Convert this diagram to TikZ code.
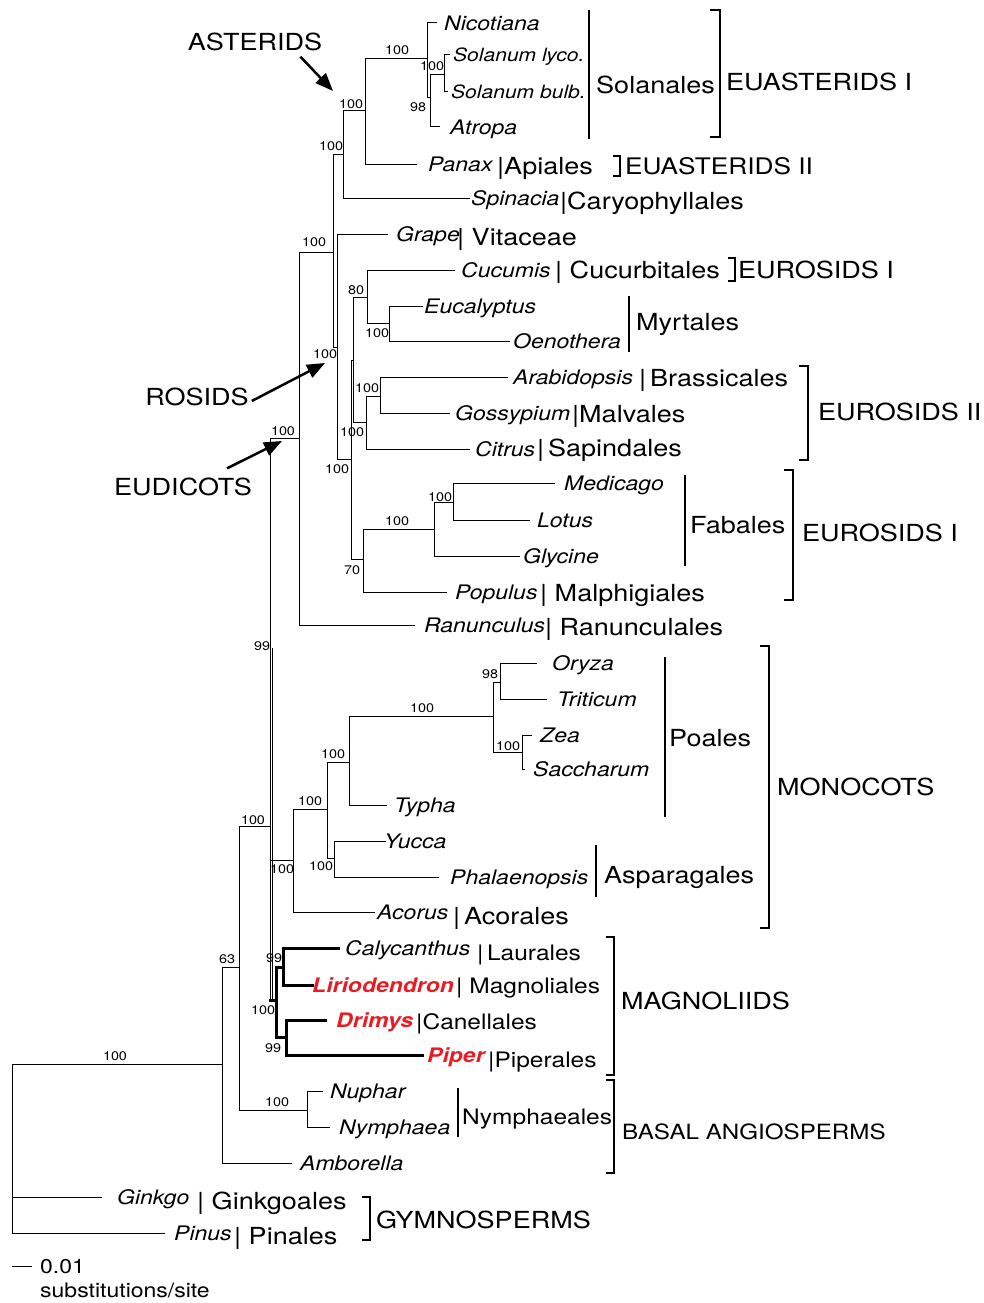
\documentclass[tikz,border=0pt]{standalone}
\usepackage{fontspec}
\setmainfont{TeX Gyre Heros}[FakeStretch=1.15]
\usetikzlibrary{positioning,arrows.meta}
\definecolor{magred}{RGB}{232,28,36}
\tikzset{
  branch/.style={line width=1pt},
  mbranch/.style={line width=3pt, line cap=rect},
  bar/.style={line width=1.4pt},
  sp/.style={inner sep=0pt, text height=14.4pt, text depth=0pt, font=\fontsize{20}{24}\selectfont\itshape},
  spsmall/.style={sp, text height=13.2pt, font=\fontsize{18.3}{22}\selectfont\itshape},
  spred/.style={sp, text=magred, font=\fontsize{20}{24}\selectfont\bfseries\itshape},
  ord/.style={anchor=west, inner sep=0pt, text height=16.9pt, text depth=0pt, font=\fontsize{23.5}{28}\selectfont},
  ordsmall/.style={ord, text height=15.3pt, font=\fontsize{21.3}{26}\selectfont},
  grp/.style={ord},
  bs/.style={inner sep=0pt, text height=8.8pt, text depth=0pt, font=\fontsize{12.5}{15}\selectfont},
  sc/.style={anchor=west, inner sep=0pt, text height=14.4pt, text depth=0pt, font=\fontsize{20}{24}\selectfont},
  arr/.style={line width=2.5pt, -{Triangle[length=18pt,width=14pt]}},
}
\begin{document}
\begin{tikzpicture}[x=1pt,y=-1pt]
\useasboundingbox (0,0) rectangle (984,1303);

% inner nodes
\foreach \n/\x/\y in {root/12/1064, ang/222/1064, n63/239/967, nym/307/1110, mes/270/826,
    n99/272/648, eud/299/438, core/333/252, ast/343/154, astc/365/111, sol/427/59,
    solin/430/98, solb/444/75, ros/337/347, ros2/351/459, ros3/353/360, cm/367/297,
    myr/389/323, bms/366/422, ag/380/396, fab/363/559, fabl/434/529, ml/453/502,
    mono/293/860, mon2/327/809, mon3/349/762, poa/493/716, ot/500/682, zs/522/752,
    asp/334/858, mag/276/1000, cl/283/967, dp/286/1037}
  \coordinate (\n) at (\x,\y);

% leaves
\foreach \n/\x/\y/\g/\t in {nic/437/23/7/Nicotiana, atr/440/127/10/Atropa, pan/417/164/11/Panax,
    spi/470/198/1/Spinacia, gra/388/234/8/Grape, cuc/455/270/6/Cucumis, euc/423/306/1/Eucalyptus,
    oen/510/341/3/Oenothera, ara/508/377/5/Arabidopsis, gos/450/413/5/Gossypium, cit/470/449/5/Citrus,
    med/555/483/9/Medicago, lot/530/520/7/Lotus, gly/520/556/3/Glycine, pop/447/592/8/Populus,
    ran/415/625/9/Ranunculus, ory/537/663/15/Oryza, tri/547/699/10/Triticum, zea/532/735/8/Zea,
    sac/525/769/8/Saccharum, typ/387/805/7/Typha, yuc/386/841/-2/Yucca, pha/439/877/11/Phalaenopsis,
    acr/375/912/2/Acorus, cal/338/948/7/Calycanthus, nup/323/1091/7/Nuphar, nyp/330/1127/9/Nymphaea,
    amb/292/1163/8/Amborella, gin/102/1197/15/Ginkgo, pin/165/1233/9/Pinus} {
  \coordinate (t\n) at (\x,\y);
  \node[sp, right=\g pt of t\n] (\n) {\t};
}
\coordinate (tlyc) at (450,55);
\node[spsmall, right=3pt of tlyc] (lyc) {Solanum lyco.};
\coordinate (tbul) at (448,92);
\node[spsmall, right=3pt of tbul] (bul) {Solanum bulb.};
\coordinate (tlir) at (312,985);
\node[spred, right=0pt of tlir] (lir) {Liriodendron};
\coordinate (tdri) at (325,1020);
\node[spred, right=11pt of tdri] (dri) {Drimys};
\coordinate (tpip) at (422,1055);
\node[spred, right=5pt of tpip] (pip) {Piper};

% branches
\foreach \a/\b in {root/ang, root/tgin, root/tpin, ang/n63, ang/tamb, n63/mes, n63/nym,
    nym/tnup, nym/tnyp, mes/eud, mes/mono, eud/core, eud/tran, core/ast, core/ros,
    ast/astc, ast/tspi, astc/sol, astc/tpan, sol/tnic, sol/solin, solin/solb, solin/tatr,
    solb/tlyc, solb/tbul, ros/tgra, ros/ros2, ros2/ros3, ros2/fab, ros3/cm, ros3/bms,
    cm/tcuc, cm/myr, myr/teuc, myr/toen, bms/ag, bms/tcit, ag/tara, ag/tgos, fab/fabl,
    fab/tpop, fabl/ml, fabl/tgly, ml/tmed, ml/tlot, mono/mon2, mono/tacr, mon2/mon3,
    mon2/asp, mon3/poa, mon3/ttyp, poa/ot, poa/zs, ot/tory, ot/ttri, zs/tzea, zs/tsac,
    asp/tyuc, asp/tpha}
  \draw[branch] (\a) |- (\b);
\draw[branch] (mes) -- (mes |- mag);
\draw[branch] (n99) -- (n99 |- mag);
% magnoliids, thick
\draw[mbranch] (mes |- mag) -- (mag);
\foreach \a/\b in {mag/cl, mag/dp, cl/tcal, cl/tlir, dp/tdri, dp/tpip}
  \draw[mbranch] (\a) |- (\b);

% bootstrap values
\foreach \x/\y/\v [count=\i] in {397/50/100, 432/66/100, 418/107/98, 351/104/100, 331/146/100,
    314/242/100, 356/290/80, 377/333/100, 325/354/100, 367/388/100, 352/432/100, 337/469/100,
    283/431/100, 440/497/100, 397/521/100, 352/570/70, 262/646/99, 490/674/98, 422/708/100,
    508/746/100, 333/754/100, 310/801/100, 253/820/100, 282/869/100, 321/866/100, 227/959/63,
    274/958/99, 263/1010/100, 273/1048/99, 277/1102/100, 115/1056/100}
  \node[bs] (bs\i) at (\x,\y) {\v};

% orders
\node[ord] (apiales) at (497,166) {|Apiales};
\node[ord] (caryo) at (560,201) {|Caryophyllales};
\node[ord] (vita) at (457,237) {| Vitaceae};
\node[ord] (cucurb) at (555,270) {| Cucurbitales};
\node[ord] (brass) at (639,378) {|\,Brassicales};
\node[ord] (malv) at (572,414) {|Malvales};
\node[ord] (sapin) at (537,448) {|\,Sapindales};
\node[ord] (malph) at (540,593) {| Malphigiales};
\node[ord] (ranun) at (545,627) {| Ranunculales};
\node[ord] (acor) at (453,916) {|\,Acorales};
\node[ordsmall] (laur) at (477,953) {|\,Laurales};
\node[ordsmall] (magn) at (456,986) {| Magnoliales};
\node[ordsmall] (canel) at (416,1022) {|Canellales};
\node[ordsmall] (piperales) at (488,1060) {|Piperales};
\node[ord] (ginkg) at (197,1201) {| Ginkgoales};
\node[ord] (pinal) at (234,1236) {| Pinales};

% orders with a long bar
\foreach \x/\a/\b in {589/10/139, 629/296/352, 685/475/566, 665/657/817, 596/845/897, 458/1088/1137}
  \draw[bar] (\x,\a) -- (\x,\b);
\node[ord] (solan) at (596,85) {Solanales};
\node[ord] (myrt) at (636,322) {Myrtales};
\node[ord] (fabal) at (690,525) {Fabales};
\node[ord] (poal) at (669,738) {Poales};
\node[ord] (aspar) at (604,875) {Asparagales};
\node[ordsmall] (nymph) at (462,1117) {Nymphaeales};

% groups
\foreach \x/\a/\b/\l in {720/10/137/10, 620/156/176/7, 735/258/281/7, 808/366/460/9, 793/470/600/9,
    769/646/928/9, 614/937/1075/8, 614/1080/1173/8, 370/1197/1240/8}
  \draw[bar] ({\x-\l},\a) -| (\x,\b) -- ({\x-\l},\b);
\node[grp] (euast1) at (726,82) {EUASTERIDS I};
\node[grp, font=\fontsize{22.8}{27}\selectfont] (euast2) at (625,166) {EUASTERIDS II};
\node[grp] (euros1a) at (738,270) {EUROSIDS I};
\node[grp] (euros2) at (818,412) {EUROSIDS II};
\node[grp] (euros1b) at (802,533) {EUROSIDS I};
\node[grp] (monoc) at (777,787) {MONOCOTS};
\node[grp] (magnol) at (621,1001) {MAGNOLIIDS};
\node[grp, font=\fontsize{21}{25}\selectfont] (basal) at (622,1131) {BASAL ANGIOSPERMS};
\node[grp] (gymno) at (376,1220) {GYMNOSPERMS};

% arrows to clades
\node[grp, anchor=center] (asterids) at (255,42) {ASTERIDS};
\node[grp, anchor=center] (rosids) at (197,397) {ROSIDS};
\node[grp, anchor=center] (eudicots) at (183,487) {EUDICOTS};
\coordinate (pasterids) at (333,91);
\coordinate (prosids) at (325,363);
\coordinate (peudicots) at (282,441);
\draw[arr] ([xshift=-22pt,yshift=-6pt]asterids.south east) -- (pasterids);
\draw[arr] ([xshift=3pt,yshift=-4pt]rosids.east) -- (prosids);
\draw[arr] ([xshift=-25pt,yshift=10pt]eudicots.north east) -- (peudicots);

% scale
\coordinate (sb) at (12,1266);
\draw[branch] (sb) -- ++(20,0);
\node[sc] (sbval) at (40,1266) {0.01};
\node[sc] (sbunit) at (40,1290) {substitutions/site};
\end{tikzpicture}
\end{document}
